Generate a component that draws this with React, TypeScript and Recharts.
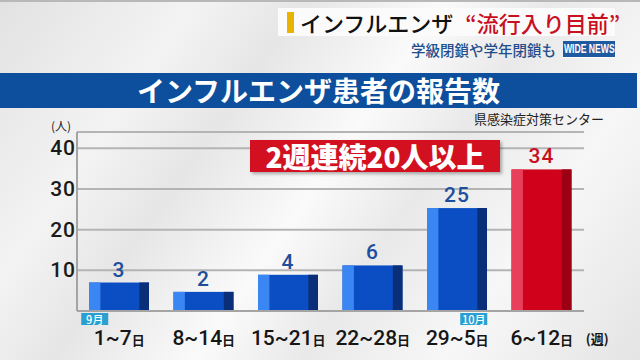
import React from 'react';
import { BarChart, Bar, XAxis, YAxis, CartesianGrid, LabelList } from 'recharts';

// weekly influenza reports (prefectural infection control center)
const weeks = ['1~7', '8~14', '15~21', '22~28', '29~5', '6~12'];
const reportedCounts = [3, 2, 4, 6, 25, 34];
// bar heights as drawn on the broadcast graphic (small weeks are exaggerated)
const drawnHeights = [7, 4.7, 8.9, 11.2, 25.3, 34.8];
const monthTags = ['9月', '', '', '', '10月', ''];
const yTicks = [10, 20, 30, 40];

const data = weeks.map((week, i) => ({
  week,
  reported: reportedCounts[i],
  height: drawnHeights[i],
  month: monthTags[i],
}));

const JP = '"Noto Sans CJK JP", "Noto Sans", sans-serif';
const NUM = 'Roboto, "Noto Sans", sans-serif';

const blueTones = ['#3a86f2', '#0b4ec3', '#0a2f78'];
const redTones = ['#e8405a', '#d0021b', '#9c0012'];

const ThreeToneBar = (props: any) => {
  const { x, y, width, height, index } = props;
  const tones = index === data.length - 1 ? redTones : blueTones;
  const side = width * 0.19;
  return (
    <g>
      <rect x={x} y={y} width={width} height={height} fill={tones[1]} />
      <rect x={x} y={y} width={side} height={height} fill={tones[0]} />
      <rect x={x + width - side * 0.85} y={y} width={side * 0.85} height={height} fill={tones[2]} />
    </g>
  );
};

const ValueLabel = (props: any) => {
  const { x, y, width, value, index } = props;
  const color = index === data.length - 1 ? '#c8101e' : '#1d4f9c';
  return (
    <text x={x + width / 2} y={y - 6} textAnchor="middle" fontSize={21} fontWeight={500} fill={color} fontFamily={NUM} letterSpacing={1}>
      {value}
    </text>
  );
};

const WeekTick = (props: any) => {
  const { x, y, payload } = props;
  const i = props.index ?? payload.index;
  const tag = monthTags[i];
  const tagW = tag.length > 1 ? 27 : 26;
  const tagX = i === 0 ? x - 38 : x + 3;
  return (
    <g>
      {tag && (
        <g>
          <rect x={tagX} y={y - 6} width={tagW} height={12} fill="#2a9fd2" />
          <text x={tagX + tagW / 2} y={y + 4.5} textAnchor="middle" fontSize={11} fontWeight={500} fill="#fff" fontFamily={JP}>
            {tag}
          </text>
        </g>
      )}
      <text x={x} y={y + 26} textAnchor="middle" fill="#161616" fontFamily={NUM} fontSize={21} fontWeight={500}>
        <tspan>{payload.value}</tspan>
        <tspan fontSize={13} fontWeight={700} fontFamily={JP}>日</tspan>
      </text>
      {i === data.length - 1 && (
        <text x={x + 44} y={y + 25} fontSize={13} fontWeight={700} fill="#161616" fontFamily={JP}>
          (週)
        </text>
      )}
    </g>
  );
};

const CountTick = (props: any) => {
  const { x, y, payload } = props;
  return (
    <text x={x - 1} y={y + 7} textAnchor="end" fontSize={21} fontWeight={500} fill="#1a1a1a" fontFamily={NUM} letterSpacing={1}>
      {payload.value}
    </text>
  );
};

export default function App() {
  return (
    <div
      style={{
        position: 'absolute',
        left: 0,
        top: 0,
        width: 640,
        height: 360,
        overflow: 'hidden',
        fontFamily: JP,
        background:
          'linear-gradient(125deg, #e2e2e2 0%, #f3f3f3 22%, #e6e6e6 34%, #fafafa 50%, #e9e9e9 62%, #f7f7f7 78%, #e4e4e4 100%)',
        borderTop: '2px solid #b8b8b8',
        boxSizing: 'border-box',
      }}
    >
      {/* header */}
      <div style={{ position: 'absolute', left: 278, top: 6, width: 337, height: 28, background: '#fbfbfb' }} />
      <div style={{ position: 'absolute', left: 287, top: 10, width: 7, height: 21, background: '#e8b400' }} />
      <div style={{ position: 'absolute', left: 300, top: 4, fontSize: 22, fontWeight: 500, color: '#111', whiteSpace: 'nowrap', lineHeight: '32px' }}>
        インフルエンザ
        <span style={{ color: '#c8101e', marginLeft: 12 }}>“流行入り目前”</span>
      </div>
      <div style={{ position: 'absolute', left: 411, top: 38, fontSize: 14.5, fontWeight: 500, color: '#1f4e8c', whiteSpace: 'nowrap', lineHeight: '20px' }}>
        学級閉鎖や学年閉鎖も
      </div>
      <div
        style={{
          position: 'absolute',
          left: 563,
          top: 39,
          width: 52,
          height: 16,
          background: '#1e5aa0',
          borderBottom: '1px solid #fff',
          display: 'flex',
          alignItems: 'center',
          justifyContent: 'center',
          overflow: 'hidden',
          color: '#fff',
          fontFamily: '"Liberation Sans", sans-serif',
          fontWeight: 700,
          fontSize: 12,
          whiteSpace: 'nowrap',
        }}
      >
        <span style={{ display: 'block', transform: 'scaleX(0.72)', lineHeight: '14px' }}>WIDE NEWS</span>
      </div>

      {/* title band */}
      <div
        style={{
          position: 'absolute',
          left: 0,
          top: 71,
          width: 637,
          height: 35,
          background: '#0d4f9c',
          color: '#fff',
          fontSize: 28,
          fontWeight: 700,
          lineHeight: '35px',
          textAlign: 'center',
        }}
      >
        インフルエンザ患者の報告数
      </div>
      <div style={{ position: 'absolute', left: 474, top: 108, fontSize: 13, color: '#222', whiteSpace: 'nowrap', lineHeight: '18px' }}>
        県感染症対策センター
      </div>
      <div style={{ position: 'absolute', left: 51, top: 116, fontSize: 12, color: '#222', lineHeight: '16px' }}>(人)</div>

      <div style={{ position: 'absolute', left: 0, top: 0 }}>
        <BarChart width={640} height={360} data={data} margin={{ top: 130, right: 56, bottom: 0, left: 0 }} barSize={60}>
          <CartesianGrid vertical={false} stroke="#b4b4b4" strokeWidth={2} />
          <XAxis
            dataKey="week"
            axisLine={{ stroke: '#a4a4a4', strokeWidth: 2 }}
            tickLine={false}
            tick={<WeekTick />}
            height={51}
            interval={0}
          />
          <YAxis
            width={77}
            domain={[0, 44]}
            ticks={yTicks}
            axisLine={{ stroke: '#a4a4a4', strokeWidth: 2 }}
            tickLine={false}
            tick={<CountTick />}
            tickMargin={0}
            tickSize={0}
          />
          <Bar dataKey="height" shape={<ThreeToneBar />} isAnimationActive={false}>
            <LabelList dataKey="reported" content={<ValueLabel />} />
          </Bar>
        </BarChart>
      </div>

      {/* callout */}
      <div
        style={{
          position: 'absolute',
          left: 250,
          top: 138,
          width: 250,
          height: 32,
          background: '#d3101f',
          color: '#fff',
          fontSize: 28,
          fontWeight: 900,
          lineHeight: '32px',
          textAlign: 'center',
          whiteSpace: 'nowrap',
          boxShadow: '2px 2px 3px rgba(0,0,0,0.3)',
        }}
      >
        2週連続20人以上
      </div>
    </div>
  );
}
